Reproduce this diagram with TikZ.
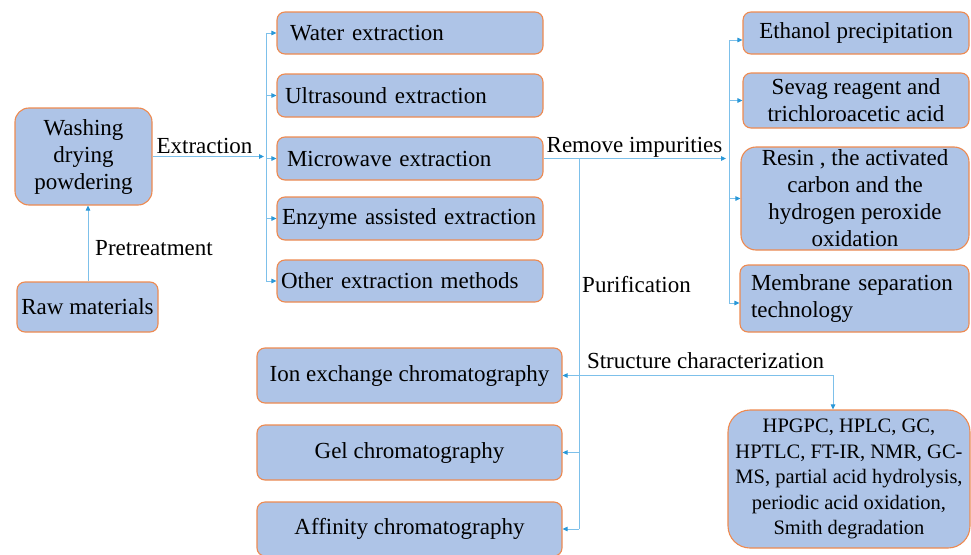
\documentclass[tikz,border=0pt]{standalone}
\usepackage{fontspec}
\setmainfont{Liberation Serif}
\usetikzlibrary{arrows.meta}
\definecolor{boxfill}{HTML}{AEC4E7}
\definecolor{boxedge}{HTML}{EE8A50}
\definecolor{linec}{HTML}{7DC0EA}
\definecolor{tipc}{HTML}{2A98D8}
\begin{document}
\begin{tikzpicture}[x=1pt,y=-1pt,
  box/.style={draw=boxedge, fill=boxfill, line width=1.1pt, rounded corners=8pt,
    font=\fontsize{23}{27}\selectfont, inner sep=0pt, align=center},
  lbox/.style={box, align=left},
  conn/.style={draw=linec, line width=0.9pt},
  arr/.style={conn, -{Triangle[length=5pt,width=4.5pt,color=tipc]}},
  lbl/.style={font=\fontsize{23}{27}\selectfont, inner sep=0pt, anchor=base}]
\useasboundingbox (0,0) rectangle (971,554);

% left
\node[box, rounded corners=14pt, minimum width=137pt, minimum height=97pt] (wash) at (83.5,156.5) {Washing\\drying\\powdering};
\node[box, minimum width=141pt, minimum height=50pt] (raw) at (87.5,307) {Raw materials};

% extraction methods
\node[lbox, text width=240pt, inner xsep=13pt, minimum height=42pt] (water) at (410,33) {Water extraction};
\node[lbox, text width=250pt, inner xsep=8pt, minimum height=43pt] (ultra) at (410,95.5) {Ultrasound extraction};
\node[lbox, text width=246pt, inner xsep=10pt, minimum height=43pt] (micro) at (410,158.5) {Microwave extraction};
\node[lbox, text width=256pt, inner xsep=5pt, minimum height=43pt] (enz) at (410,218.5) {\mbox{Enzyme assisted extraction}};
\node[lbox, text width=258pt, inner xsep=4pt, minimum height=42pt] (other) at (410,281) {Other extraction methods};

% impurity removal
\node[box, minimum width=226pt, minimum height=42pt] (eth) at (856,33) {Ethanol precipitation};
\node[box, minimum width=226pt, minimum height=55pt] (sev) at (856,100.5) {Sevag reagent and\\trichloroacetic acid};
\node[box, rounded corners=15pt, minimum width=228pt, minimum height=103pt] (res) at (855,198.5) {Resin , the activated\\carbon and the\\hydrogen peroxide\\oxidation};
\node[lbox, text width=207pt, inner xsep=11pt, minimum height=67pt] (mem) at (854.5,298.5) {Membrane separation\\technology};

% purification
\node[box, minimum width=305pt, minimum height=55pt] (ion) at (409.5,375.5) {Ion exchange chromatography};
\node[box, minimum width=305pt, minimum height=55pt] (gel) at (409.5,452.5) {Gel chromatography};
\node[box, minimum width=305pt, minimum height=54pt] (aff) at (409.5,529) {Affinity chromatography};

% structure
\node[box, rounded corners=22pt, minimum width=242pt, minimum height=138pt, font=\fontsize{20.5}{25.5}\selectfont] (hp) at (849,479) {HPGPC, HPLC, GC,\\HPTLC, FT-IR, NMR, GC-\\MS, partial acid hydrolysis,\\periodic acid oxidation,\\Smith degradation};

% labels
\node[lbl] (lext) at (204.5,153) {Extraction};
\node[lbl] (lpre) at (154,255) {Pretreatment};
\node[lbl] (lrem) at (634.5,152) {Remove impurities};
\node[lbl] (lpur) at (636.5,292) {Purification};
\node[lbl] (lstr) at (705.5,368) {Structure characterization};

% helper coordinates
\coordinate (vx) at (266,0);
\coordinate (vr) at (729,0);
\coordinate (pv) at (579,0);
\coordinate (sc) at (833,0);

% connectors
\draw[arr] (raw.north -| 88,0) -- (wash.south -| 88,0);
\draw[arr] (wash.east) -- ([xshift=-2pt]wash.east -| vx);
\draw[conn] (water.west -| vx) -- (other.west -| vx);
\foreach \b in {water,ultra,micro,enz,other}
  \draw[arr] (\b.west -| vx) -- (\b.west);

\draw[arr] (micro.east) -- ([xshift=-3pt]micro.east -| vr);
\draw[conn] ([yshift=-7pt]eth.west -| vr) -- ([yshift=-4.5pt]mem.west -| vr);
\draw[arr] ([yshift=-7pt]eth.west -| vr) -- ([yshift=-7pt]eth.west);
\draw[arr] (sev.west -| vr) -- (sev.west);
\draw[arr] (res.west -| vr) -- (res.west);
\draw[arr] ([yshift=-4.5pt]mem.west -| vr) -- ([yshift=-4.5pt]mem.west);

\draw[conn] (micro.east -| pv) -- (aff.east -| pv);
\foreach \b in {ion,gel,aff}
  \draw[arr] (\b.east -| pv) -- (\b.east);
\draw[arr] (ion.east -| pv) -| (sc |- hp.north);
\end{tikzpicture}
\end{document}
